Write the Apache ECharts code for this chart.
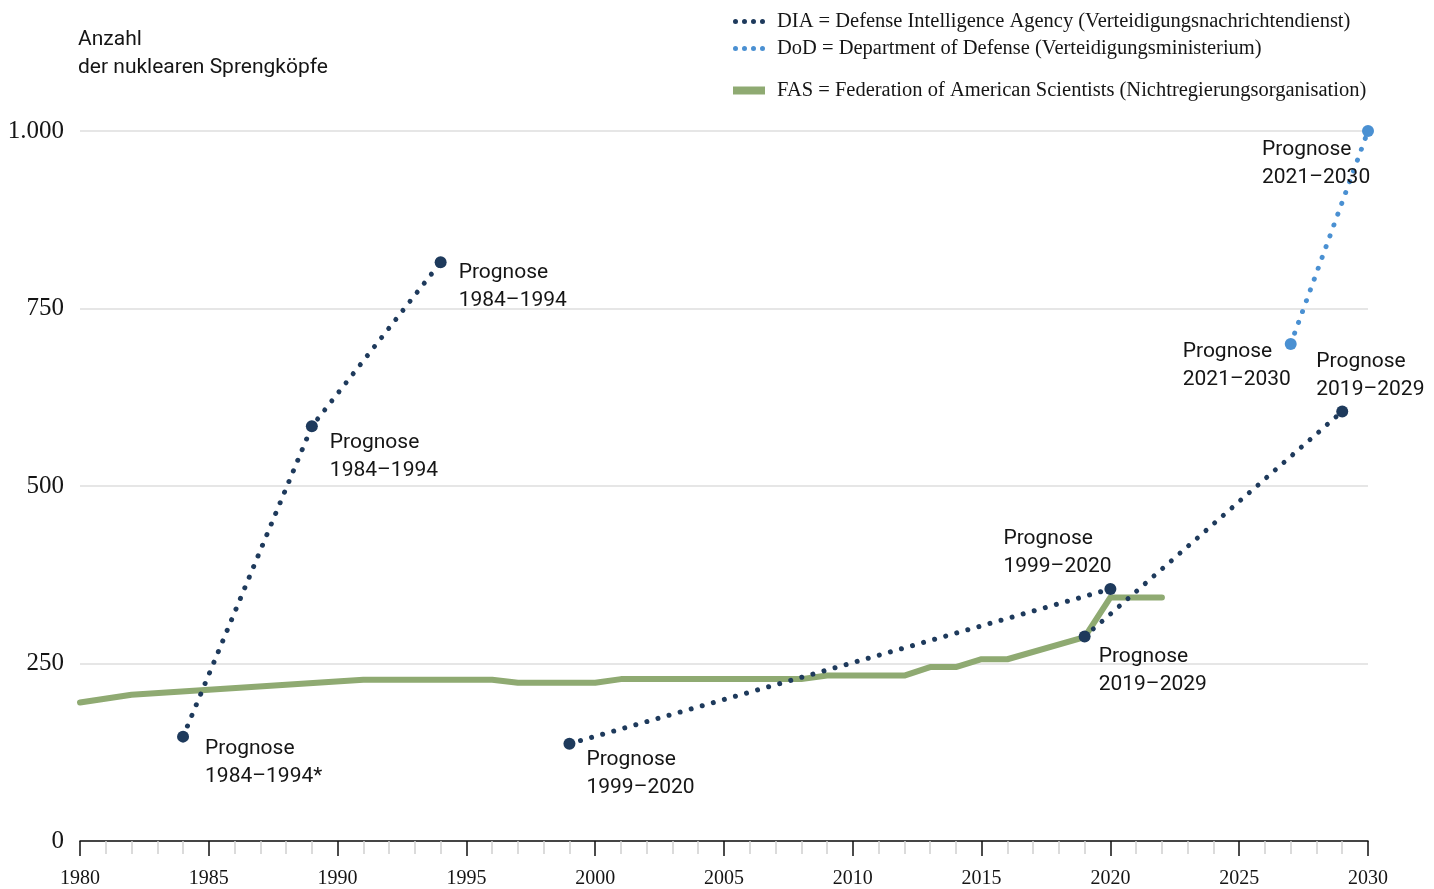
<!DOCTYPE html>
<html>
<head>
<meta charset="utf-8">
<script src="https://cdn.jsdelivr.net/npm/echarts@6/dist/echarts.min.js"></script>
<style>
html,body{margin:0;padding:0;background:#fff;}
#chart{width:1434px;height:889px;}
</style>
</head>
<body>
<div id="chart"></div>
<script>
// ---- data ----
const yTicks = [0, 250, 500, 750, 1000];
const xTicks = [1980, 1985, 1990, 1995, 2000, 2005, 2010, 2015, 2020, 2025, 2030];

const fasYears  = [1980, 1982, 1991, 1996, 1997, 2000, 2001, 2008, 2009, 2012, 2013, 2014, 2015, 2016, 2019, 2020, 2022];
const fasValues = [195,  206,  227,  227,  223,  223,  228,  228,  233,  233,  245,  245,  256,  256,  287,  343,  343];

const dia1Years  = [1984, 1989, 1994];
const dia1Values = [147, 584, 815];
const dia1Labels = ['Prognose\n1984–1994*', 'Prognose\n1984–1994', 'Prognose\n1984–1994'];

const dia2Years  = [1999, 2020];
const dia2Values = [137, 355];
const dia2Labels = ['Prognose\n1999–2020', 'Prognose\n1999–2020'];

const dia3Years  = [2019, 2029];
const dia3Values = [288, 605];
const dia3Labels = ['Prognose\n2019–2029', 'Prognose\n2019–2029'];

const dodYears  = [2027, 2030];
const dodValues = [700, 1000];
const dodLabels = ['Prognose\n2021–2030', 'Prognose\n2021–2030'];

const nameDIA = 'DIA = Defense Intelligence Agency (Verteidigungsnachrichtendienst)';
const nameDoD = 'DoD = Department of Defense (Verteidigungsministerium)';
const nameFAS = 'FAS = Federation of American Scientists (Nichtregierungsorganisation)';
const yTitle = 'Anzahl\nder nuklearen Sprengköpfe';

// ---- styles ----
const cDIA = '#1e3a5c';
const cDoD = '#4a90d2';
const cFAS = '#8faa72';
const sans = 'Roboto, "Noto Sans", sans-serif';
const serif = '"Liberation Serif", "DejaVu Serif", serif';
const SYM = 12;

// label offsets (text top-left relative to marker centre) – layout only
const offDIA1 = [[22, -2], [18, 2], [18, -4]];
const offDIA2 = [[17, 2], [-107, -64]];
const offDIA3 = [[14, 6], [-26, -64]];
const offDoD  = [[-108, -6], [-106, 5]];

function pts(years, values, labels, offs) {
  return years.map((y, i) => ({
    value: [y, values[i]],
    label: {
      show: true,
      formatter: labels[i],
      position: [SYM / 2 + offs[i][0], SYM / 2 + offs[i][1]],
      align: 'left',
      verticalAlign: 'top',
      fontFamily: sans,
      fontSize: 21,
      lineHeight: 28,
      color: '#151515'
    }
  }));
}

function dotted(name, color, data) {
  return {
    type: 'line',
    name: name,
    data: data,
    clip: false,
    symbol: 'circle',
    symbolSize: SYM,
    itemStyle: { color: color },
    lineStyle: { color: color, width: 5, type: [0.01, 11.5], cap: 'round' },
    z: 5,
    silent: true,
    animation: false
  };
}

const dotsIcon = 'path://M0,2.5a2.5,2.5 0 1,0 5,0a2.5,2.5 0 1,0 -5,0Z M9,2.5a2.5,2.5 0 1,0 5,0a2.5,2.5 0 1,0 -5,0Z M18,2.5a2.5,2.5 0 1,0 5,0a2.5,2.5 0 1,0 -5,0Z M27,2.5a2.5,2.5 0 1,0 5,0a2.5,2.5 0 1,0 -5,0Z';

function legendAt(top, name, icon, h) {
  return {
    left: 733, top: top, orient: 'horizontal', selectedMode: false,
    itemWidth: 32, itemHeight: h, padding: 0,
    data: [{ name: name, icon: icon }],
    textStyle: { fontFamily: serif, fontSize: 20.5, color: '#151515', padding: [0, 0, 0, 7], lineHeight: 20 }
  };
}

const chart = echarts.init(document.getElementById('chart'), null, { renderer: 'canvas' });
chart.setOption({
  animation: false,
  backgroundColor: '#ffffff',
  title: {
    text: yTitle, left: 78, top: 26, padding: 0,
    textStyle: { fontFamily: sans, fontSize: 21, fontWeight: 'normal', lineHeight: 28, color: '#151515' }
  },
  legend: [
    legendAt(11, nameDIA, dotsIcon, 5),
    legendAt(38, nameDoD, dotsIcon, 5),
    legendAt(80, nameFAS, 'rect', 8)
  ],
  grid: { left: 80, right: 66, top: 131, bottom: 44, containLabel: false },
  xAxis: {
    type: 'value', min: xTicks[0], max: xTicks[xTicks.length - 1], interval: 5,
    axisLine: { show: true, lineStyle: { color: '#111', width: 1.5 } },
    axisTick: { show: true, length: 15, lineStyle: { color: '#111', width: 1.5 } },
    minorTick: { show: true, splitNumber: 5, length: 13, lineStyle: { color: '#cfcfcf', width: 1.5 } },
    splitLine: { show: false },
    axisLabel: { margin: 28, fontFamily: serif, fontSize: 20, color: '#151515', formatter: v => String(v) }
  },
  yAxis: {
    type: 'value', min: yTicks[0], max: yTicks[yTicks.length - 1], interval: 250,
    axisLine: { show: false }, axisTick: { show: false },
    splitLine: { show: true, lineStyle: { color: '#dedede', width: 1.5 } },
    axisLabel: { margin: 16, fontFamily: serif, fontSize: 25, color: '#151515',
      formatter: v => String(v).replace(/\B(?=(\d{3})+(?!\d))/g, '.') }
  },
  series: [
    {
      type: 'line', name: nameFAS,
      data: fasYears.map((y, i) => [y, fasValues[i]]),
      symbol: 'none', clip: false,
      itemStyle: { color: cFAS },
      lineStyle: { color: cFAS, width: 6, cap: 'round', join: 'round' },
      z: 3, silent: true
    },
    dotted(nameDIA, cDIA, pts(dia1Years, dia1Values, dia1Labels, offDIA1)),
    dotted(nameDIA, cDIA, pts(dia2Years, dia2Values, dia2Labels, offDIA2)),
    dotted(nameDIA, cDIA, pts(dia3Years, dia3Values, dia3Labels, offDIA3)),
    dotted(nameDoD, cDoD, pts(dodYears, dodValues, dodLabels, offDoD))
  ]
});
</script>
</body>
</html>
